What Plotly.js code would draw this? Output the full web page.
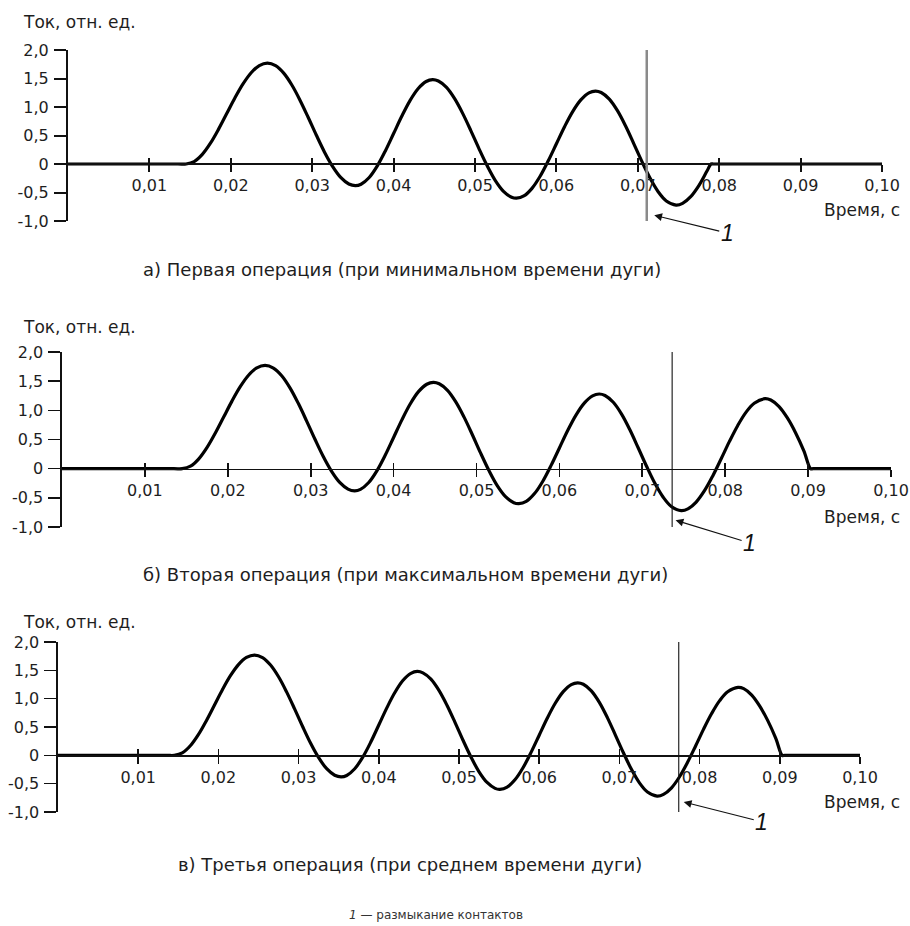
<!DOCTYPE html>
<html><head><meta charset="utf-8">
<script src="https://cdn.plot.ly/plotly-3.0.1.min.js"></script>
<style>html,body{margin:0;padding:0;background:#fff}</style>
</head><body><div id="chart" style="width:910px;height:926px"></div>
<script>
// ---- data (time in s, current in relative units) ----
const time = [0, 0.0135, 0.0145, 0.0155, 0.0165, 0.0175, 0.0185, 0.0195, 0.0205, 0.0215, 0.0225, 0.0235, 0.0245,
  0.0255, 0.0265, 0.0275, 0.0285, 0.0295, 0.0305, 0.0315, 0.0325, 0.0335, 0.0345, 0.0353,
  0.0360, 0.0370, 0.0380, 0.0390, 0.0400, 0.0410, 0.0420, 0.0430, 0.0440, 0.0448,
  0.0455, 0.0465, 0.0475, 0.0485, 0.0495, 0.0505, 0.0515, 0.0525, 0.0535, 0.0545, 0.0551,
  0.0560, 0.0570, 0.0580, 0.0590, 0.0600, 0.0610, 0.0620, 0.0630, 0.0640, 0.0648,
  0.0655, 0.0665, 0.0675, 0.0685, 0.0695, 0.0705, 0.0715, 0.0725, 0.0735, 0.0747,
  0.0755, 0.0765, 0.0775, 0.0785, 0.0795, 0.0805, 0.0815, 0.0825, 0.0835, 0.0848,
  0.0855, 0.0865, 0.0875, 0.0885, 0.0895, 0.0903, 0.0906, 0.1000];
const current = [0, 0, 0, 0.043, 0.169, 0.365, 0.612, 0.885, 1.158, 1.405, 1.601, 1.727, 1.77,
  1.725, 1.594, 1.386, 1.120, 0.820, 0.508, 0.212, -0.042, -0.236, -0.351, -0.38,
  -0.355, -0.237, -0.033, 0.234, 0.535, 0.837, 1.108, 1.320, 1.447, 1.48,
  1.456, 1.344, 1.146, 0.884, 0.582, 0.266, -0.032, -0.290, -0.479, -0.583, -0.60,
  -0.561, -0.427, -0.215, 0.056, 0.355, 0.654, 0.919, 1.124, 1.249, 1.28,
  1.255, 1.138, 0.935, 0.666, 0.358, 0.045, -0.247, -0.486, -0.648, -0.72,
  -0.690, -0.573, -0.378, -0.124, 0.165, 0.463, 0.737, 0.965, 1.122, 1.20,
  1.177, 1.064, 0.869, 0.612, 0.30, 0, 0, 0];
// first operation: arc extinguished at the current zero near 0.079 s
const time1 = [0, 0.0135, 0.0145, 0.0155, 0.0165, 0.0175, 0.0185, 0.0195, 0.0205, 0.0215, 0.0225, 0.0235, 0.0245,
  0.0255, 0.0265, 0.0275, 0.0285, 0.0295, 0.0305, 0.0315, 0.0325, 0.0335, 0.0345, 0.0353,
  0.0360, 0.0370, 0.0380, 0.0390, 0.0400, 0.0410, 0.0420, 0.0430, 0.0440, 0.0448,
  0.0455, 0.0465, 0.0475, 0.0485, 0.0495, 0.0505, 0.0515, 0.0525, 0.0535, 0.0545, 0.0551,
  0.0560, 0.0570, 0.0580, 0.0590, 0.0600, 0.0610, 0.0620, 0.0630, 0.0640, 0.0648,
  0.0655, 0.0665, 0.0675, 0.0685, 0.0695, 0.0705, 0.0715, 0.0725, 0.0735, 0.0747,
  0.0755, 0.0765, 0.0775, 0.0785, 0.0790, 0.0793, 0.1000];
const current1 = [0, 0, 0, 0.043, 0.169, 0.365, 0.612, 0.885, 1.158, 1.405, 1.601, 1.727, 1.77,
  1.725, 1.594, 1.386, 1.120, 0.820, 0.508, 0.212, -0.042, -0.236, -0.351, -0.38,
  -0.355, -0.237, -0.033, 0.234, 0.535, 0.837, 1.108, 1.320, 1.447, 1.48,
  1.456, 1.344, 1.146, 0.884, 0.582, 0.266, -0.032, -0.290, -0.479, -0.583, -0.60,
  -0.561, -0.427, -0.215, 0.056, 0.355, 0.654, 0.919, 1.124, 1.249, 1.28,
  1.255, 1.138, 0.935, 0.666, 0.358, 0.045, -0.247, -0.486, -0.648, -0.72,
  -0.690, -0.573, -0.378, -0.124, 0, 0, 0];
const contactOpenTime = [0.0711, 0.0736, 0.0774];
const arrowTipTime = [0.0719, 0.0739, 0.0779];
const arrowTipCurrent = [-0.895, -0.88, -0.82];
const xTickVals = [0.01, 0.02, 0.03, 0.04, 0.05, 0.06, 0.07, 0.08, 0.09, 0.10];
const xTickText = ["0,01", "0,02", "0,03", "0,04", "0,05", "0,06", "0,07", "0,08", "0,09", "0,10"];
const yTickVals = [-1, -0.5, 0, 0.5, 1, 1.5, 2];
const yTickText = ["-1,0", "-0,5", "0", "0,5", "1,0", "1,5", "2,0"];
const yLabel = "Ток, отн. ед.";
const xLabel = "Время, с";
const captions = ["а) Первая операция (при минимальном времени дуги)", "б) Вторая операция (при максимальном времени дуги)", "в) Третья операция (при среднем времени дуги)"];
const footnote = "<i>1</i> — размыкание контактов";
const markLabel = "<i>1</i>";

// ---- layout geometry (pixels) ----
const W = 910, H = 926;
const FONT = "DejaVu Sans, sans-serif";
const TXT = "#1e1e1e";
const panels = [
  {x0: 68, x1: 882, yTop: 50, yBot: 221, ylab: 22, xlabY: 210, capY: 269, capX: 402, vcol: "#8a8a8a", vw: 2.5, lw: 2, off: [74, 18]},
  {x0: 62, x1: 891, yTop: 352, yBot: 527, ylab: 327, xlabY: 517, capY: 574, capX: 405, vcol: "#111", vw: 1.1, lw: 1.6, off: [75, 23]},
  {x0: 58, x1: 860, yTop: 642, yBot: 812, ylab: 622, xlabY: 802, capY: 864, capX: 410, vcol: "#111", vw: 1.1, lw: 1.6, off: [79, 20]}
];
const py = v => 1 - v / H, px = v => v / W;

const traces = [], layout = {
  width: W, height: H, margin: {l: 0, r: 0, t: 0, b: 0},
  paper_bgcolor: "#fff", plot_bgcolor: "rgba(0,0,0,0)", showlegend: false,
  font: {family: FONT, size: 16, color: TXT},
  shapes: [], annotations: []
};
const series = [[time1, current1], [time, current], [time, current]];

panels.forEach((p, i) => {
  const n = i + 1, m = i + 4;
  const xk = n === 1 ? "xaxis" : "xaxis" + n, yk = n === 1 ? "yaxis" : "yaxis" + n;
  const xr = n === 1 ? "x" : "x" + n, yr = n === 1 ? "y" : "y" + n;
  const yd = [py(p.yBot), py(p.yTop)];
  const zeroPos = yd[0] + (yd[1] - yd[0]) / 3;
  layout[xk] = {domain: [px(p.x0), px(p.x1)], range: [0, 0.1], anchor: "free", position: zeroPos,
    showline: true, linecolor: "#111", linewidth: p.lw, ticks: "outside", ticklen: 7, tickwidth: p.lw, tickcolor: "#111",
    tickvals: xTickVals, ticktext: xTickText, showgrid: false, zeroline: false, fixedrange: true,
    tickfont: {family: FONT, size: 16, color: TXT}};
  layout["xaxis" + m] = {domain: [px(p.x0), px(p.x1)], range: [0, 0.1], anchor: "free", position: zeroPos, overlaying: xr,
    showline: false, ticks: "inside", ticklen: 6, tickwidth: p.lw, tickcolor: "#111",
    tickvals: xTickVals, showticklabels: false, showgrid: false, zeroline: false, fixedrange: true};
  layout[yk] = {domain: yd, range: [-1, 2], anchor: xr, showline: true, linecolor: "#111", linewidth: p.lw,
    ticks: "outside", ticklen: 12, tickwidth: p.lw, tickcolor: "#111", tickvals: yTickVals, ticktext: yTickText,
    ticklabelstandoff: 2, showgrid: false, zeroline: false, fixedrange: true,
    tickfont: {family: FONT, size: 16, color: TXT}};
  traces.push({x: series[i][0], y: series[i][1], xaxis: xr, yaxis: yr, type: "scatter", mode: "lines",
    line: {color: "#000", width: 3.2, shape: "spline", smoothing: 1}, hoverinfo: "skip"});
  traces.push({x: [null], y: [null], xaxis: "x" + m, yaxis: yr, type: "scatter", mode: "lines", hoverinfo: "skip"});
  layout.shapes.push({type: "line", xref: xr, yref: yr, x0: contactOpenTime[i], x1: contactOpenTime[i], y0: -1, y1: 2,
    line: {color: p.vcol, width: p.vw}});
  layout.annotations.push({xref: xr, yref: yr, x: arrowTipTime[i], y: arrowTipCurrent[i], text: markLabel,
    showarrow: true, ax: p.off[0], ay: p.off[1], arrowhead: 2, arrowsize: 1.3, arrowwidth: 1.2, arrowcolor: "#111",
    font: {family: "Liberation Sans, Arial, sans-serif", size: 23, color: "#111"}, standoff: 1});
  layout.annotations.push({xref: "paper", yref: "paper", x: px(21), y: py(p.ylab), xanchor: "left", yanchor: "middle",
    text: yLabel, showarrow: false, font: {family: FONT, size: 17, color: TXT}});
  layout.annotations.push({xref: "paper", yref: "paper", x: px(902), y: py(p.xlabY), xanchor: "right", yanchor: "middle",
    text: xLabel, showarrow: false, font: {family: FONT, size: 17, color: TXT}});
  layout.annotations.push({xref: "paper", yref: "paper", x: px(p.capX), y: py(p.capY), xanchor: "center", yanchor: "middle",
    text: captions[i], showarrow: false, font: {family: FONT, size: 18, color: TXT}});
});
layout.annotations.push({xref: "paper", yref: "paper", x: px(436), y: py(915), xanchor: "center", yanchor: "middle",
  text: footnote, showarrow: false, font: {family: FONT, size: 12, color: "#333"}});

Plotly.newPlot("chart", traces, layout, {staticPlot: true, displayModeBar: false});
</script>
</body></html>
